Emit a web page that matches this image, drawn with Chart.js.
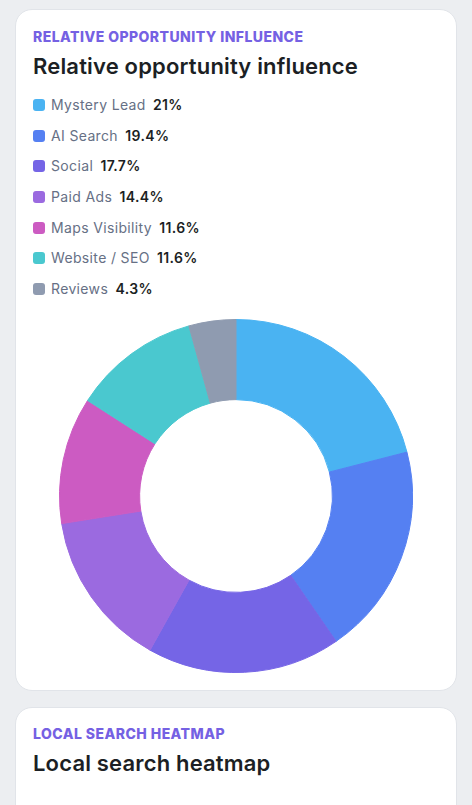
<!DOCTYPE html>
<html>
<head>
<meta charset="utf-8">
<title>Relative opportunity influence</title>
<script src="https://cdn.jsdelivr.net/npm/chart.js@4"></script>
<style>
    html, body { margin: 0; padding: 0; }
    body { width: 472px; height: 805px; overflow: hidden; position: relative; background: #eceef1; font-family: Inter, sans-serif; }
    .card { position: absolute; left: 15px; width: 439.5px; background: #fff; border: 1px solid #e1e4e9; border-radius: 17px; box-sizing: content-box; }
    .eyebrow { position: absolute; left: 33px; font-size: 14px; line-height: 18px; font-weight: 800; letter-spacing: 0.45px; color: #7561e3; white-space: nowrap; }
    .title { position: absolute; left: 33px; font-size: 22px; line-height: 28px; font-weight: 600; letter-spacing: 0.17px; color: #1c1f24; white-space: nowrap; }
    #legend { position: absolute; left: 33px; top: 90px; margin: 0; padding: 0; list-style: none; }
    #legend li { position: relative; height: 30.7px; line-height: 30px; font-size: 14px; letter-spacing: 0.35px; color: #667085; white-space: nowrap; padding-left: 18px; }
    #legend i { position: absolute; left: 0; top: 9px; width: 12px; height: 12px; border-radius: 3px; }
    #legend b { margin-left: 3px; font-weight: 600; color: #1c1f24; }
    #chartBox { position: absolute; left: 59px; top: 319px; width: 354px; height: 354px; }
</style>
</head>
<body>
    <div class="card" style="top: 9px; height: 680px;"></div>
    <div class="card" style="top: 707px; height: 120px;"></div>

    <div class="eyebrow" style="top: 28px;">RELATIVE OPPORTUNITY INFLUENCE</div>
    <div class="title" style="top: 52px;">Relative opportunity influence</div>
    <ul id="legend"></ul>
    <div id="chartBox"><canvas id="influenceChart"></canvas></div>

    <div class="eyebrow" style="top: 725px;">LOCAL SEARCH HEATMAP</div>
    <div class="title" style="top: 749px;">Local search heatmap</div>

<script>
// Chart data
const categories = ['Mystery Lead', 'AI Search', 'Social', 'Paid Ads', 'Maps Visibility', 'Website / SEO', 'Reviews'];
const shares = [21, 19.4, 17.7, 14.4, 11.6, 11.6, 4.3];
const sliceColors = ['#4ab3f2', '#5580f2', '#7565e6', '#9b6ae0', '#cc5bc2', '#4ac8cf', '#8f9bb0'];

// Build the legend rows
const legend = document.getElementById('legend');
categories.forEach((name, i) => {
    const row = document.createElement('li');
    row.innerHTML = `<i style="background:${sliceColors[i]}"></i>${name} <b>${shares[i]}%</b>`;
    legend.appendChild(row);
});

const ctx = document.getElementById('influenceChart').getContext('2d');
new Chart(ctx, {
    type: 'doughnut',
    data: {
        labels: categories,
        datasets: [{
            data: shares,
            backgroundColor: sliceColors,
            // same colour as the fill, hides the seams between slices
            borderColor: sliceColors,
            borderWidth: 1
        }]
    },
    options: {
        responsive: true,
        maintainAspectRatio: false,
        animation: false,
        cutout: '54.6%',
        plugins: {
            legend: { display: false },
            tooltip: { enabled: false }
        }
    }
});
</script>
</body>
</html>
